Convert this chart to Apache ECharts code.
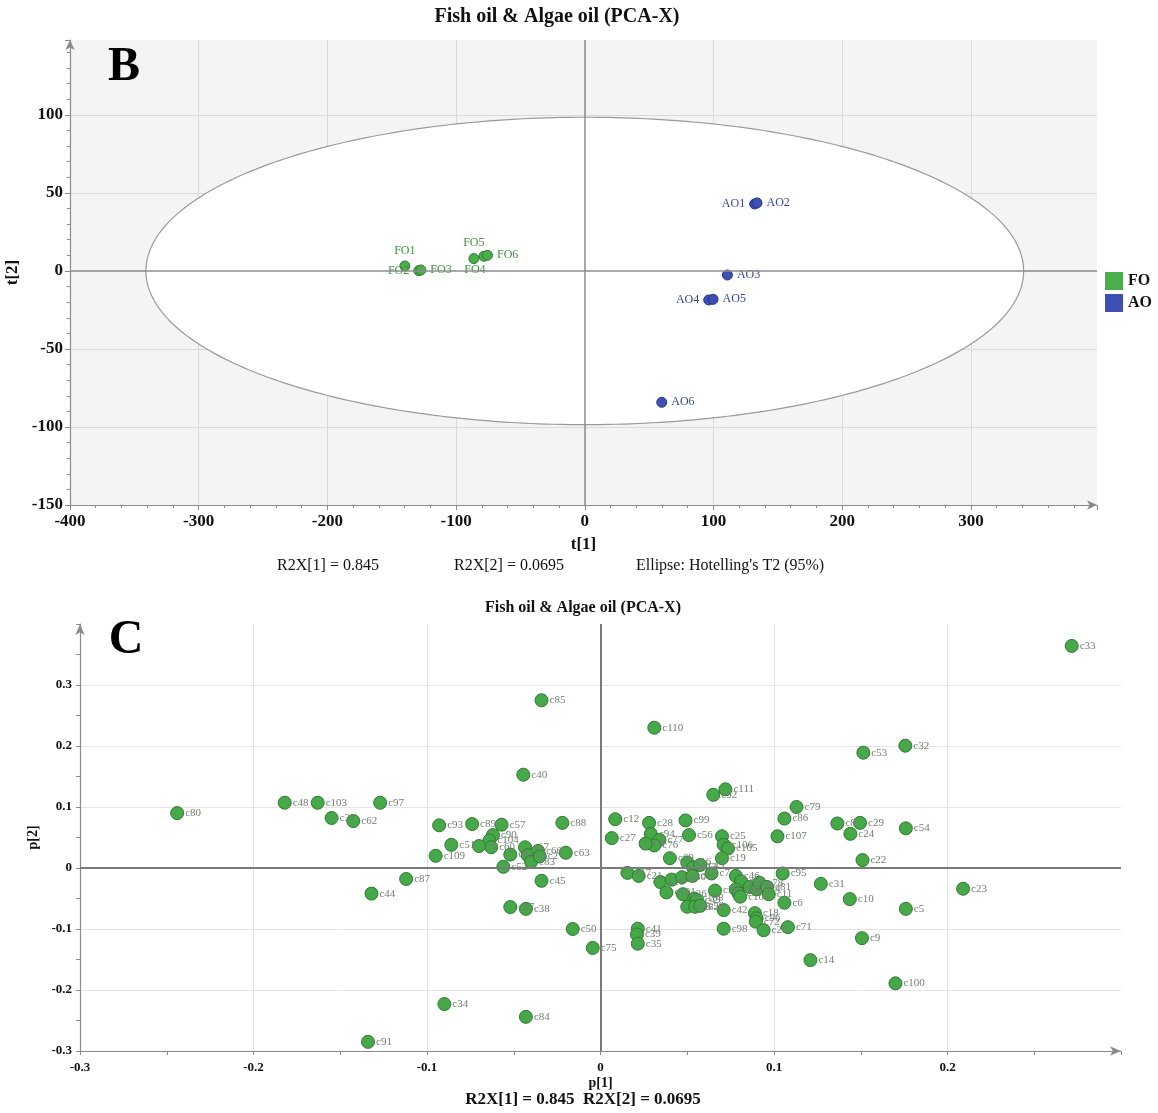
<!DOCTYPE html>
<html><head><meta charset="utf-8">
<script src="https://cdn.jsdelivr.net/npm/echarts@6/dist/echarts.min.js"></script>
<style>html,body{margin:0;padding:0;background:#fff}#chart{width:1158px;height:1113px}</style>
</head><body><div id="chart"></div>
<script>
// ---------- Panel B: scores ----------
const foNames = ['FO1','FO2','FO3','FO4','FO5','FO6'];
const foT1 = [-139.8, -129.0, -127.4, -78.4, -86.2, -75.6];
const foT2 = [3.2, 0.2, 0.6, 9.4, 7.9, 10.0];
const aoNames = ['AO1','AO2','AO3','AO4','AO5','AO6'];
const aoT1 = [132.0, 133.8, 110.8, 96.3, 99.7, 59.8];
const aoT2 = [42.9, 43.6, -2.6, -18.6, -18.2, -84.2];
const ellipseSemiT1 = 341;   // Hotelling's T2 (95%) semi-axis on t[1]
const ellipseSemiT2 = 98.5;  // semi-axis on t[2]
const t1Ticks = [-400, -300, -200, -100, 0, 100, 200, 300];
const t2Ticks = [-150, -100, -50, 0, 50, 100];

// ---------- Panel C: loadings ----------
const loadingNames = ['c80','c48','c103','c37','c62','c97','c87','c44','c34','c91','c84','c93','c89','c57','c88','c51','c109','c90','c104','c60','c1','c61','c67','c3','c83','c66','c2','c63','c52','c45','c47','c38','c50','c75','c85','c40','c110','c111','c92','c79','c86','c12','c28','c99','c27','c94','c77','c76','c4','c56','c25','c106','c105','c107','c19','c69','c16','c13','c43','c7','c95','c17','c21','c26','c65','c30','c15','c101','c36','c108','c49','c55','c82','c58','c59','c42','c98','c46','c64','c68','c70','c102','c73','c74','c78','c81','c11','c6','c18','c96','c72','c20','c71','c41','c39','c35','c33','c32','c53','c8','c29','c24','c54','c22','c31','c10','c5','c23','c9','c14','c100'];
const loadingP1 = [-0.244,-0.182,-0.163,-0.155,-0.1425,-0.127,-0.112,-0.132,-0.090,-0.134,-0.043,-0.093,-0.074,-0.057,-0.022,-0.086,-0.095,-0.062,-0.064,-0.063,-0.070,-0.052,-0.0435,-0.042,-0.040,-0.036,-0.035,-0.020,-0.056,-0.034,-0.052,-0.043,-0.016,-0.0045,-0.034,-0.0445,0.031,0.072,0.065,0.113,0.106,0.0085,0.028,0.049,0.0065,0.029,0.034,0.031,0.026,0.051,0.070,0.071,0.0735,0.102,0.070,0.040,0.050,0.0535,0.0575,0.064,0.105,0.0155,0.022,0.0345,0.041,0.047,0.053,0.038,0.0475,0.054,0.0555,0.050,0.0545,0.0575,0.066,0.071,0.071,0.078,0.081,0.078,0.0795,0.0805,0.086,0.090,0.0915,0.096,0.097,0.106,0.089,0.090,0.0895,0.094,0.108,0.0215,0.021,0.0215,0.2716,0.1757,0.1515,0.1365,0.1496,0.144,0.176,0.151,0.127,0.1437,0.176,0.209,0.1507,0.121,0.170];
const loadingP2 = [0.090,0.107,0.107,0.082,0.077,0.107,-0.018,-0.042,-0.223,-0.285,-0.244,0.070,0.072,0.071,0.074,0.038,0.020,0.054,0.045,0.034,0.036,0.022,0.034,0.021,0.010,0.028,0.019,0.025,0.002,-0.021,-0.064,-0.067,-0.100,-0.131,0.275,0.153,0.230,0.129,0.120,0.100,0.081,0.080,0.074,0.078,0.049,0.056,0.046,0.037,0.040,0.054,0.052,0.038,0.032,0.052,0.016,0.016,0.009,0.001,0.005,-0.009,-0.009,-0.008,-0.013,-0.023,-0.019,-0.015,-0.013,-0.040,-0.043,-0.050,-0.0525,-0.0635,-0.0635,-0.062,-0.037,-0.069,-0.0995,-0.013,-0.022,-0.035,-0.0415,-0.047,-0.031,-0.035,-0.024,-0.031,-0.043,-0.057,-0.074,-0.0825,-0.088,-0.102,-0.097,-0.0995,-0.109,-0.124,0.364,0.2005,0.189,0.073,0.074,0.056,0.065,0.013,-0.026,-0.051,-0.067,-0.034,-0.115,-0.151,-0.189];
const p1Ticks = [-0.3, -0.2, -0.1, 0, 0.1, 0.2];
const p2Ticks = [-0.3, -0.2, -0.1, 0, 0.1, 0.2, 0.3];

// ---------- styles (not data) ----------
const SERIF = '"Liberation Serif","DejaVu Serif",serif';
const scoreLabelPos = {FO1:'top',FO2:'left',FO3:'right',FO4:'bottom',FO5:'top',FO6:'right',
                       AO1:'left',AO2:'right',AO3:'right',AO4:'left',AO5:'right',AO6:'right'};
const scoreLabelOffset = {FO4:[-9,-2]};

function hasTick(list, v) { return list.some(t => Math.abs(t - v) < 1e-9); }
function fmt(list, dec) {
  return v => hasTick(list, v) ? (dec ? (Math.abs(v) < 1e-9 ? '0' : v.toFixed(dec)) : String(Math.round(v))) : '';
}
function scorePoints(names, t1, t2, color) {
  return names.map((n, i) => ({
    name: n, value: [t1[i], t2[i]],
    label: { position: scoreLabelPos[n] || 'right', offset: scoreLabelOffset[n] || [0, 0], color: color }
  }));
}

const axisLabelB = { fontFamily: SERIF, fontWeight: 'bold', fontSize: 17, color: '#111' };
const axisLabelC = { fontFamily: SERIF, fontWeight: 'bold', fontSize: 13, color: '#111' };
const axisLineStyle = { color: '#8a8a8a', width: 1.2 };

const chart = echarts.init(document.getElementById('chart'), null, { renderer: 'canvas' });
chart.setOption({
  animation: false,
  backgroundColor: '#ffffff',
  grid: [
    { left: 70, top: 40, width: 1027, height: 465, show: true, backgroundColor: '#f4f4f4', borderWidth: 0, containLabel: false, outerBoundsMode: 'none' },
    { left: 80, top: 624, width: 1041, height: 427, show: true, backgroundColor: '#ffffff', borderWidth: 0, containLabel: false, outerBoundsMode: 'none' }
  ],
  xAxis: [
    { gridIndex: 0, type: 'value', min: -400, max: 398, interval: 100,
      name: 't[1]', nameLocation: 'middle', nameGap: 31,
      nameTextStyle: { fontFamily: SERIF, fontWeight: 'bold', fontSize: 17, color: '#111' },
      axisLine: { onZero: false, symbol: ['none', 'arrow'], symbolSize: [7, 10], lineStyle: axisLineStyle },
      axisTick: { show: true, length: 5, lineStyle: { color: '#8a8a8a' } },
      minorTick: { show: true, splitNumber: 5, length: 3, lineStyle: { color: '#8a8a8a' } },
      axisLabel: Object.assign({ margin: 8, formatter: fmt(t1Ticks, 0), showMaxLabel: false }, axisLabelB),
      splitLine: { show: true, showMaxLine: false, lineStyle: { color: '#dadada' } } },
    { gridIndex: 1, type: 'value', min: -0.3, max: 0.3, interval: 0.1,
      name: 'p[1]', nameLocation: 'middle', nameGap: 25,
      nameTextStyle: { fontFamily: SERIF, fontWeight: 'bold', fontSize: 14, color: '#111' },
      axisLine: { onZero: false, symbol: ['none', 'arrow'], symbolSize: [7, 11], lineStyle: axisLineStyle },
      axisTick: { show: true, length: 4, lineStyle: { color: '#8a8a8a' } },
      minorTick: { show: true, splitNumber: 2, length: 4, lineStyle: { color: '#8a8a8a' } },
      axisLabel: Object.assign({ margin: 10, formatter: fmt(p1Ticks, 1) }, axisLabelC),
      splitLine: { show: true, showMaxLine: false, lineStyle: { color: '#e4e4e4' } } }
  ],
  yAxis: [
    { gridIndex: 0, type: 'value', min: -150, max: 148, interval: 50,
      name: 't[2]', nameLocation: 'middle', nameGap: 43,
      nameTextStyle: { fontFamily: SERIF, fontWeight: 'bold', fontSize: 17, color: '#111' },
      axisLine: { onZero: false, symbol: ['none', 'arrow'], symbolSize: [7, 10], lineStyle: axisLineStyle },
      axisTick: { show: true, length: 5, lineStyle: { color: '#8a8a8a' } },
      minorTick: { show: true, splitNumber: 5, length: 3, lineStyle: { color: '#8a8a8a' } },
      axisLabel: Object.assign({ margin: 7, formatter: fmt(t2Ticks, 0), showMaxLabel: false }, axisLabelB),
      splitLine: { show: true, showMaxLine: false, lineStyle: { color: '#dadada' } } },
    { gridIndex: 1, type: 'value', min: -0.3, max: 0.4, interval: 0.1,
      name: 'p[2]', nameLocation: 'middle', nameGap: 30,
      nameTextStyle: { fontFamily: SERIF, fontWeight: 'bold', fontSize: 14, color: '#111' },
      axisLine: { onZero: false, symbol: ['none', 'arrow'], symbolSize: [7, 11], lineStyle: axisLineStyle },
      axisTick: { show: true, length: 4, lineStyle: { color: '#8a8a8a' } },
      minorTick: { show: true, splitNumber: 2, length: 4, lineStyle: { color: '#8a8a8a' } },
      axisLabel: Object.assign({ margin: 8, formatter: fmt(p2Ticks, 1) }, axisLabelC),
      splitLine: { show: true, showMaxLine: false, lineStyle: { color: '#e4e4e4' } } }
  ],
  legend: {
    data: ['FO', 'AO'], orient: 'vertical', left: 1105, top: 272, padding: 0,
    itemWidth: 18, itemHeight: 18, itemGap: 4, icon: 'rect',
    itemStyle: { borderWidth: 0 },
    textStyle: { fontFamily: SERIF, fontWeight: 'bold', fontSize: 16, color: '#111' }
  },
  graphic: [
    { type: 'text', x: 557, y: 17, style: { text: 'Fish oil & Algae oil (PCA-X)', font: 'bold 20px ' + SERIF, fill: '#111', textAlign: 'center', textVerticalAlign: 'middle' } },
    { type: 'text', x: 124, y: 68, style: { text: 'B', font: 'bold 48px ' + SERIF, fill: '#000', textAlign: 'center', textVerticalAlign: 'middle' } },
    { type: 'text', x: 277, y: 566, style: { text: 'R2X[1] = 0.845', font: '16px ' + SERIF, fill: '#111', textAlign: 'left', textVerticalAlign: 'middle' } },
    { type: 'text', x: 454, y: 566, style: { text: 'R2X[2] = 0.0695', font: '16px ' + SERIF, fill: '#111', textAlign: 'left', textVerticalAlign: 'middle' } },
    { type: 'text', x: 636, y: 566, style: { text: "Ellipse: Hotelling's T2 (95%)", font: '16px ' + SERIF, fill: '#111', textAlign: 'left', textVerticalAlign: 'middle' } },
    { type: 'text', x: 583, y: 608, style: { text: 'Fish oil & Algae oil (PCA-X)', font: 'bold 16px ' + SERIF, fill: '#111', textAlign: 'center', textVerticalAlign: 'middle' } },
    { type: 'text', x: 126, y: 641, style: { text: 'C', font: 'bold 48px ' + SERIF, fill: '#000', textAlign: 'center', textVerticalAlign: 'middle' } },
    { type: 'text', x: 583, y: 1100, style: { text: 'R2X[1] = 0.845  R2X[2] = 0.0695', font: 'bold 17px ' + SERIF, fill: '#111', textAlign: 'center', textVerticalAlign: 'middle' } }
  ],
  series: [
    { // Hotelling's T2 ellipse
      type: 'custom', xAxisIndex: 0, yAxisIndex: 0, z: 1, silent: true,
      data: [[0, 0]],
      renderItem: function (params, api) {
        const pts = [];
        for (let k = 0; k <= 360; k++) {
          const a = k * Math.PI / 180;
          pts.push(api.coord([ellipseSemiT1 * Math.cos(a), ellipseSemiT2 * Math.sin(a)]));
        }
        return { type: 'polygon', shape: { points: pts }, style: { fill: '#ffffff', stroke: '#9a9a9a', lineWidth: 1.2 } };
      }
    },
    { // zero lines B
      type: 'scatter', xAxisIndex: 0, yAxisIndex: 0, z: 2, silent: true, data: [],
      markLine: { silent: true, symbol: ['none', 'none'], label: { show: false },
        lineStyle: { color: '#8c8c8c', width: 1.5, type: 'solid' },
        data: [{ xAxis: 0 }, { yAxis: 0 }] }
    },
    { name: 'FO', type: 'scatter', xAxisIndex: 0, yAxisIndex: 0, z: 3,
      symbolSize: 10,
      itemStyle: { color: '#4aae4d', borderColor: '#2f7d33', borderWidth: 1, opacity: 1 },
      label: { show: true, formatter: '{b}', fontFamily: SERIF, fontSize: 12, distance: 4 },
      data: scorePoints(foNames, foT1, foT2, '#3e8f3e') },
    { name: 'AO', type: 'scatter', xAxisIndex: 0, yAxisIndex: 0, z: 3,
      symbolSize: 10,
      itemStyle: { color: '#3e50b4', borderColor: '#27348a', borderWidth: 1, opacity: 1 },
      label: { show: true, formatter: '{b}', fontFamily: SERIF, fontSize: 12, distance: 4 },
      data: scorePoints(aoNames, aoT1, aoT2, '#34449a') },
    { // zero lines C
      type: 'scatter', xAxisIndex: 1, yAxisIndex: 1, z: 2, silent: true, data: [],
      markLine: { silent: true, symbol: ['none', 'none'], label: { show: false },
        lineStyle: { color: '#7a7a7a', width: 2, type: 'solid' },
        data: [{ xAxis: 0 }, { yAxis: 0 }] }
    },
    { name: 'loadings', type: 'scatter', xAxisIndex: 1, yAxisIndex: 1, z: 3,
      symbolSize: 13,
      itemStyle: { color: '#47a849', borderColor: '#2e7a30', borderWidth: 1, opacity: 1 },
      label: { show: true, position: 'right', distance: 1, formatter: '{b}', fontFamily: SERIF, fontSize: 11, color: '#6f7f6f' },
      data: loadingNames.map((n, i) => ({ name: n, value: [loadingP1[i], loadingP2[i]] })) }
  ]
});
</script>
</body></html>
